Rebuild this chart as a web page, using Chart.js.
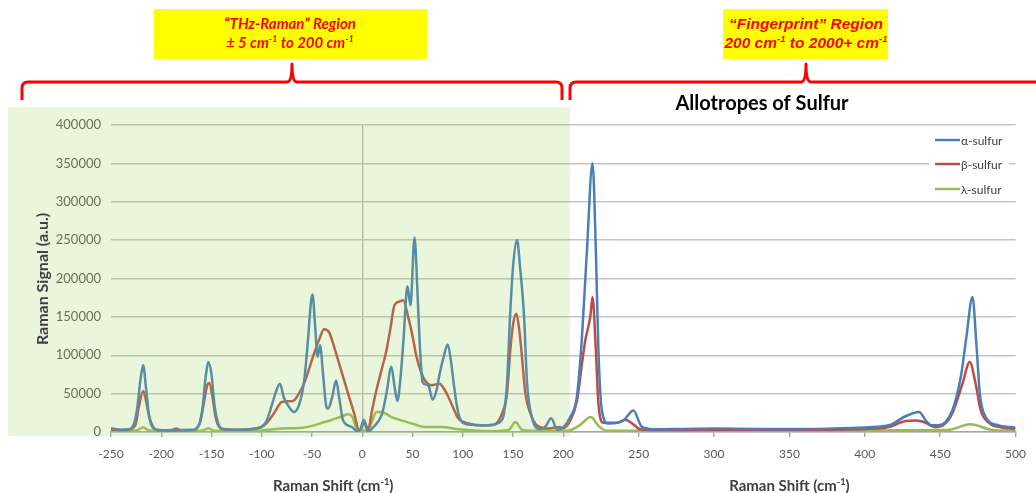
<!DOCTYPE html>
<html>
<head>
<meta charset="utf-8">
<script src="https://cdn.jsdelivr.net/npm/chart.js@4.4.0/dist/chart.umd.min.js"></script>
<style>
    body { margin: 0; background: #ffffff; }
    #wrap { position: relative; width: 1036px; height: 493px; }
</style>
</head>
<body>
<div id="wrap"><canvas id="ramanChart" width="1036" height="493"></canvas></div>
<script>
// Raman shift (cm-1) and signal (a.u.)
const alphaShift = [
    -250, -246, -240, -233, -228, -224, -221, -218, -215, -212,
    -208, -200, -190, -185, -180, -170, -163, -159, -156, -153,
    -150, -147, -143, -138, -125, -110, -100, -95, -90, -86,
    -82, -78, -73, -68, -63, -58, -54, -51, -49.5, -47,
    -44.5, -42, -39, -36, -34, -30, -26, -23, -19, -11,
    -5, -2, 1.5, 4, 6, 10, 16, 20, 24, 29,
    32, 35, 38, 41, 45, 48, 52, 55, 57, 60,
    63, 66, 70, 74, 77, 81, 85, 88, 91, 95,
    100, 110, 120, 130, 138, 141, 144, 147, 150, 154,
    157, 161, 164, 169, 176, 182, 188, 194, 200, 204.6,
    209, 212.4, 215.7, 219.4, 221.6, 223.3, 225.6, 230, 236, 240,
    246.5, 252, 260, 280, 300, 330, 360, 396, 416, 427,
    436, 440.5, 444, 449, 458, 463.7, 467.4, 471.4, 474, 476.3,
    480.2, 489, 500
];
const alphaSignal = [
    5000, 4000, 3000, 3500, 8000, 30000, 65000, 87000, 55000, 20000,
    5000, 2000, 2500, 4500, 2500, 2500, 8000, 30000, 70000, 91000,
    75000, 35000, 10000, 4000, 3000, 4000, 7000, 15000, 35000, 52000,
    63000, 45000, 33000, 26000, 35000, 65000, 120000, 170000, 179000, 140000,
    98000, 113000, 75000, 35000, 30500, 45000, 67000, 45000, 15000, 7000,
    1500, 3000, 16000, 5000, 500, 5000, 14000, 25000, 50000, 85000,
    60000, 40500, 70000, 120000, 190000, 165000, 253500, 180000, 120000, 65000,
    62000, 60000, 42000, 55000, 76000, 98000, 114000, 95000, 63000, 28000,
    12000, 9500, 8500, 9500, 14000, 24000, 63000, 150000, 215000, 250000,
    215000, 150000, 63000, 18000, 4000, 6500, 18000, 3000, 6000, 19500,
    45600, 124000, 237000, 350000, 237000, 106500, 28000, 11000, 12000, 15000,
    28000, 7000, 3500, 4000, 4500, 4000, 4000, 5700, 8700, 20500,
    26000, 15000, 8700, 8700, 28000, 72000, 124000, 176000, 115000, 50000,
    19500, 8700, 5700
];

const betaShift = [
    -250, -235, -226, -222, -218, -215, -213, -210, -205, -190,
    -170, -162, -158, -154, -152, -149, -146, -142, -135, -120,
    -105, -100, -95, -88, -80, -72, -68, -63, -58, -53,
    -48, -43, -38, -33, -30, -23, -15, -8, -3, 0,
    2, 5.7, 10, 14, 19, 24, 28, 32, 37, 40.7,
    45.7, 50, 54, 58, 62.3, 69, 73, 77, 81, 85.7,
    91, 95.7, 105.7, 120, 130, 139, 144, 147.3, 150, 153.3,
    156, 158.3, 162.3, 167.3, 174, 185.7, 195.7, 200, 204.6, 209,
    212.4, 214.6, 217.9, 219.4, 221.6, 223.3, 226.7, 235.5, 241, 246.5,
    251, 260, 300, 360, 400, 416, 427, 434, 440.5, 446,
    452, 458, 464.8, 469.6, 473.5, 476.9, 482.4, 490, 500
];
const betaSignal = [
    3000, 2500, 8000, 35000, 53500, 40000, 26000, 12000, 3000, 2000,
    2500, 10000, 35000, 62000, 64000, 45000, 20000, 6000, 3000, 3000,
    5000, 6500, 12000, 24000, 39000, 40000, 41000, 50000, 63000, 82000,
    102000, 120000, 134000, 130000, 119500, 89000, 54000, 24000, 2000, 8000,
    14000, 3000, 30000, 54000, 80000, 106000, 135000, 165000, 170000, 171500,
    150000, 125000, 98000, 80000, 67500, 61000, 62000, 63000, 57000, 45600,
    30000, 17500, 11000, 8500, 9000, 24000, 50000, 106500, 140000, 154000,
    135000, 106500, 50000, 24000, 8500, 4500, 6500, 5000, 15000, 40000,
    89000, 119500, 150000, 176000, 106500, 37000, 12000, 12000, 16000, 10000,
    3500, 2500, 3000, 3000, 4000, 6500, 14300, 15000, 12000, 6500,
    9000, 24000, 63000, 91300, 63000, 28000, 12000, 6000, 4000
];

const lambdaShift = [
    -250, -225, -218, -212, -200, -160, -153, -147, -120, -100,
    -80, -60, -50, -40, -30, -20, -14, -10, -5, 0,
    5.7, 10, 14, 19, 29, 42, 52, 62, 79, 96,
    129, 146, 152.3, 159, 170, 200, 204, 211, 218.3, 223.3,
    229, 300, 400, 455, 470, 485, 500
];
const lambdaSignal = [
    1500, 2000, 6000, 2000, 1000, 1500, 5000, 1500, 1500, 2000,
    4500, 5500, 8000, 12000, 16000, 20500, 23000, 20000, 3000, 2000,
    1500, 15000, 26000, 26000, 19500, 14000, 10000, 6500, 6500, 3500,
    1000, 3000, 13000, 3000, 1500, 1500, 2000, 9000, 19500, 8000,
    1500, 1500, 2000, 2500, 10000, 2500, 1500
];

const seriesNames = ["α-sulfur", "β-sulfur", "λ-sulfur"];
const seriesColors = ["#4a7ebb", "#be4b48", "#98b954"];
const xTicks = [-250, -200, -150, -100, -50, 0, 50, 100, 150, 200, 250, 300, 350, 400, 450, 500];

// the picture is two charts side by side: above 200 cm-1 the axis is stretched 1.5x
const SPLIT = 200, STRETCH = 1.5;
function toAxis(x) { return x <= SPLIT ? x : SPLIT + (x - SPLIT) * STRETCH; }
function fromAxis(u) { return u <= SPLIT ? u : SPLIT + (u - SPLIT) / STRETCH; }

function points(shift, signal) {
    return shift.map((x, i) => ({x: toAxis(x), y: signal[i]}));
}

function drawRuns(ctx, runs, cx, y, size, family, style) {
    let w = 0;
    runs.forEach(r => {
        ctx.font = style + " " + (r[1] ? size * 0.62 : size) + "px " + family;
        w += ctx.measureText(r[0]).width;
    });
    let x = cx - w / 2;
    ctx.textAlign = "left";
    ctx.textBaseline = "alphabetic";
    runs.forEach(r => {
        ctx.font = style + " " + (r[1] ? size * 0.62 : size) + "px " + family;
        ctx.fillText(r[0], x, r[1] ? y - size * 0.38 : y);
        x += ctx.measureText(r[0]).width;
    });
}

function brace(ctx, x1, x2, tip) {
    ctx.beginPath();
    ctx.moveTo(x1, 100);
    ctx.lineTo(x1, 88);
    ctx.quadraticCurveTo(x1, 82, x1 + 6, 82);
    ctx.lineTo(tip - 5, 82);
    ctx.quadraticCurveTo(tip, 82, tip, 64);
    ctx.quadraticCurveTo(tip, 82, tip + 5, 82);
    if (x2 > 1036) {
        ctx.lineTo(x2, 82);
    } else {
        ctx.lineTo(x2 - 6, 82);
        ctx.quadraticCurveTo(x2, 82, x2, 88);
        ctx.lineTo(x2, 100);
    }
    ctx.stroke();
}

const decor = {
    id: "decor",
    afterDraw(chart) {
        const ctx = chart.ctx;
        const xs = chart.scales.x;
        ctx.save();
        // green "THz-Raman" zone
        ctx.fillStyle = "rgba(146, 208, 80, 0.2)";
        ctx.fillRect(8, 107, 562, 329);

        // yellow labels
        ctx.fillStyle = "#ffff00";
        ctx.fillRect(154, 9, 273, 50);
        ctx.fillRect(723, 9, 165, 50);
        ctx.fillStyle = "#ff0000";
        drawRuns(ctx, [["\u201CTHz-Raman\u201D Region", false]], 290, 29, 15, "Lato", "italic bold");
        drawRuns(ctx, [["\u00B1 5 cm", false], ["-1", true], [" to 200 cm", false], ["-1", true]], 290, 48, 15, "Lato", "italic bold");
        drawRuns(ctx, [["\u201CFingerprint\u201D Region", false]], 806, 29, 15.5, "'Liberation Sans'", "italic bold");
        drawRuns(ctx, [["200 cm", false], ["-1", true], [" to 2000+ cm", false], ["-1", true]], 806, 48, 15.5, "'Liberation Sans'", "italic bold");

        // braces
        ctx.strokeStyle = "#ff0000";
        ctx.lineWidth = 3;
        ctx.lineJoin = "round";
        brace(ctx, 22, 562, 292);
        brace(ctx, 570, 1045, 806);

        // title
        ctx.fillStyle = "#000000";
        drawRuns(ctx, [["Allotropes of Sulfur", false]], 762, 110, 20, "Lato", "bold");

        // axis titles
        ctx.fillStyle = "#404040";
        const leftMid = (xs.getPixelForValue(-250) + xs.getPixelForValue(200)) / 2;
        const rightMid = (xs.getPixelForValue(200) + xs.getPixelForValue(toAxis(500))) / 2;
        drawRuns(ctx, [["Raman Shift (cm", false], ["-1", true], [")", false]], leftMid - 4, 491, 15, "Lato", "bold");
        drawRuns(ctx, [["Raman Shift (cm", false], ["-1", true], [")", false]], rightMid, 491, 15, "Lato", "bold");
        ctx.save();
        ctx.translate(48, 279);
        ctx.rotate(-Math.PI / 2);
        drawRuns(ctx, [["Raman Signal (a.u.)", false]], 0, 0, 16, "Lato", "bold");
        ctx.restore();

        // legend
        ctx.fillStyle = "#ffffff";
        ctx.fillRect(929, 128, 80, 72);
        const rows = [140, 164, 189];
        chart.data.datasets.forEach((ds, i) => {
            ctx.strokeStyle = ds.borderColor;
            ctx.lineWidth = 2.5;
            ctx.beginPath();
            ctx.moveTo(935, rows[i]);
            ctx.lineTo(960, rows[i]);
            ctx.stroke();
            ctx.fillStyle = "#404040";
            ctx.font = "12px Lato";
            ctx.textAlign = "left";
            ctx.textBaseline = "middle";
            ctx.fillText(ds.label, 961, rows[i] + 1);
        });
        ctx.restore();
    }
};

const datasets = [
    points(alphaShift, alphaSignal),
    points(betaShift, betaSignal),
    points(lambdaShift, lambdaSignal)
].map((pts, i) => ({
    label: seriesNames[i],
    data: pts,
    borderColor: seriesColors[i],
    borderWidth: 2.5,
    pointRadius: 0,
    cubicInterpolationMode: "monotone",
    fill: false
}));

new Chart(document.getElementById("ramanChart").getContext("2d"), {
    type: "line",
    data: {datasets: datasets},
    options: {
        responsive: false,
        animation: false,
        devicePixelRatio: 1,
        layout: {padding: {top: 125, right: 20, left: 0, bottom: 0}},
        plugins: {
            legend: {display: false},
            tooltip: {enabled: false}
        },
        scales: {
            x: {
                type: "linear",
                min: -250,
                max: toAxis(500),
                afterBuildTicks: scale => {
                    scale.ticks = xTicks.map(v => ({value: toAxis(v)}));
                },
                afterFit: scale => { scale.height = 61; },
                ticks: {
                    autoSkip: false,
                    maxRotation: 0,
                    padding: 10,
                    color: "#595959",
                    font: {family: "Lato", size: 12},
                    callback: value => Math.round(fromAxis(value))
                },
                grid: {
                    color: c => (c.tick && c.tick.value === 0) ? "#b8b8b8" : "rgba(0,0,0,0)",
                    tickColor: "#a6a6a6",
                    tickLength: 5,
                    lineWidth: 1.4
                },
                border: {color: "#a6a6a6", width: 1.4}
            },
            y: {
                min: 0,
                max: 400000,
                afterFit: scale => { scale.width = 111; },
                ticks: {
                    stepSize: 50000,
                    padding: 10,
                    color: "#595959",
                    font: {family: "Lato", size: 13},
                    callback: value => String(value)
                },
                grid: {
                    color: "#c4c4c4",
                    lineWidth: 1.4,
                    drawTicks: false
                },
                border: {display: false}
            }
        }
    },
    plugins: [decor]
});
</script>
</body>
</html>
